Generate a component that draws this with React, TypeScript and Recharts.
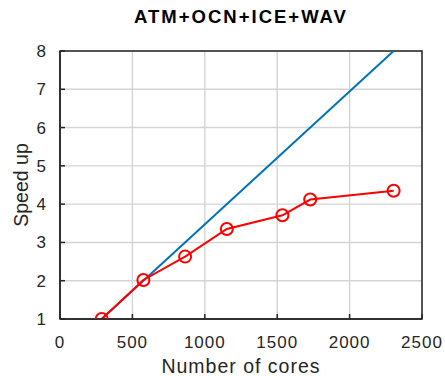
import { CartesianGrid, Line, LineChart, XAxis, YAxis } from "recharts";

const cores = [288, 576, 864, 1152, 1536, 1728, 2304];
const speedup = [1, 2.02, 2.63, 3.35, 3.71, 4.12, 4.35];
const idealCores = [288, 2304];
const idealSpeedup = [1, 8];
const xTicks = [0, 500, 1000, 1500, 2000, 2500];
const yTicks = [1, 2, 3, 4, 5, 6, 7, 8];

const table = cores.map((c, i) => {
  const k = idealCores.indexOf(c);
  return { cores: c, speedup: speedup[i], ideal: k >= 0 ? idealSpeedup[k] : null };
});

const font = "'Liberation Sans', Arial, sans-serif";
const axisColor = "#262626";
const tickStyle = { fontSize: 17, fill: axisColor, fontFamily: font, letterSpacing: 1 };
const labelStyle = { fontSize: 19.5, fill: axisColor, fontFamily: font, letterSpacing: 1, textAnchor: "middle" as const };

// plot box (chart margins + axis sizes)
const box = { left: 60, top: 51, right: 23, bottom: 57 };
const W = 445;
const H = 376;

export default function App() {
  return (
    <div
      style={{
        position: "absolute",
        left: 0,
        top: 0,
        width: W,
        height: H,
        overflow: "hidden",
        background: "#fff",
      }}
    >
      <div
        style={{
          position: "absolute",
          left: 0,
          top: 6,
          width: W,
          boxSizing: "border-box",
          paddingLeft: 37,
          textAlign: "center",
          fontFamily: font,
          fontWeight: "bold",
          fontSize: 18.5,
          letterSpacing: 2,
          color: "#000",
        }}
      >
        ATM+OCN+ICE+WAV
      </div>
      <LineChart
        width={W}
        height={H}
        data={table}
        margin={{ top: box.top, right: box.right, left: 0, bottom: 0 }}
      >
        <CartesianGrid stroke="#d4d4d4" strokeWidth={1.4} />
        <XAxis
          type="number"
          dataKey="cores"
          domain={[0, 2500]}
          ticks={xTicks}
          height={box.bottom}
          stroke={axisColor}
          strokeWidth={1.5}
          tickSize={-5}
          tickMargin={22}
          tick={tickStyle}
          allowDataOverflow
          label={{ value: "Number of cores", position: "insideBottom", offset: 3, style: labelStyle }}
        />
        <YAxis
          type="number"
          domain={[1, 8]}
          ticks={yTicks}
          width={box.left}
          stroke={axisColor}
          strokeWidth={1.5}
          tickSize={-5}
          tickMargin={18}
          tick={tickStyle}
          allowDataOverflow
          label={{ value: "Speed up", angle: -90, position: "insideLeft", offset: 21, style: { ...labelStyle, letterSpacing: 0 } }}
        />
        <rect
          x={box.left}
          y={box.top}
          width={W - box.left - box.right}
          height={H - box.top - box.bottom}
          fill="none"
          stroke={axisColor}
          strokeWidth={1.5}
        />
        <Line
          dataKey="ideal"
          connectNulls
          stroke="#0072bd"
          strokeWidth={2}
          dot={false}
          isAnimationActive={false}
        />
        <Line
          dataKey="speedup"
          stroke="#ff0000"
          strokeWidth={2}
          dot={{ r: 6, stroke: "#ff0000", strokeWidth: 2, fill: "none" }}
          isAnimationActive={false}
        />
      </LineChart>
    </div>
  );
}
